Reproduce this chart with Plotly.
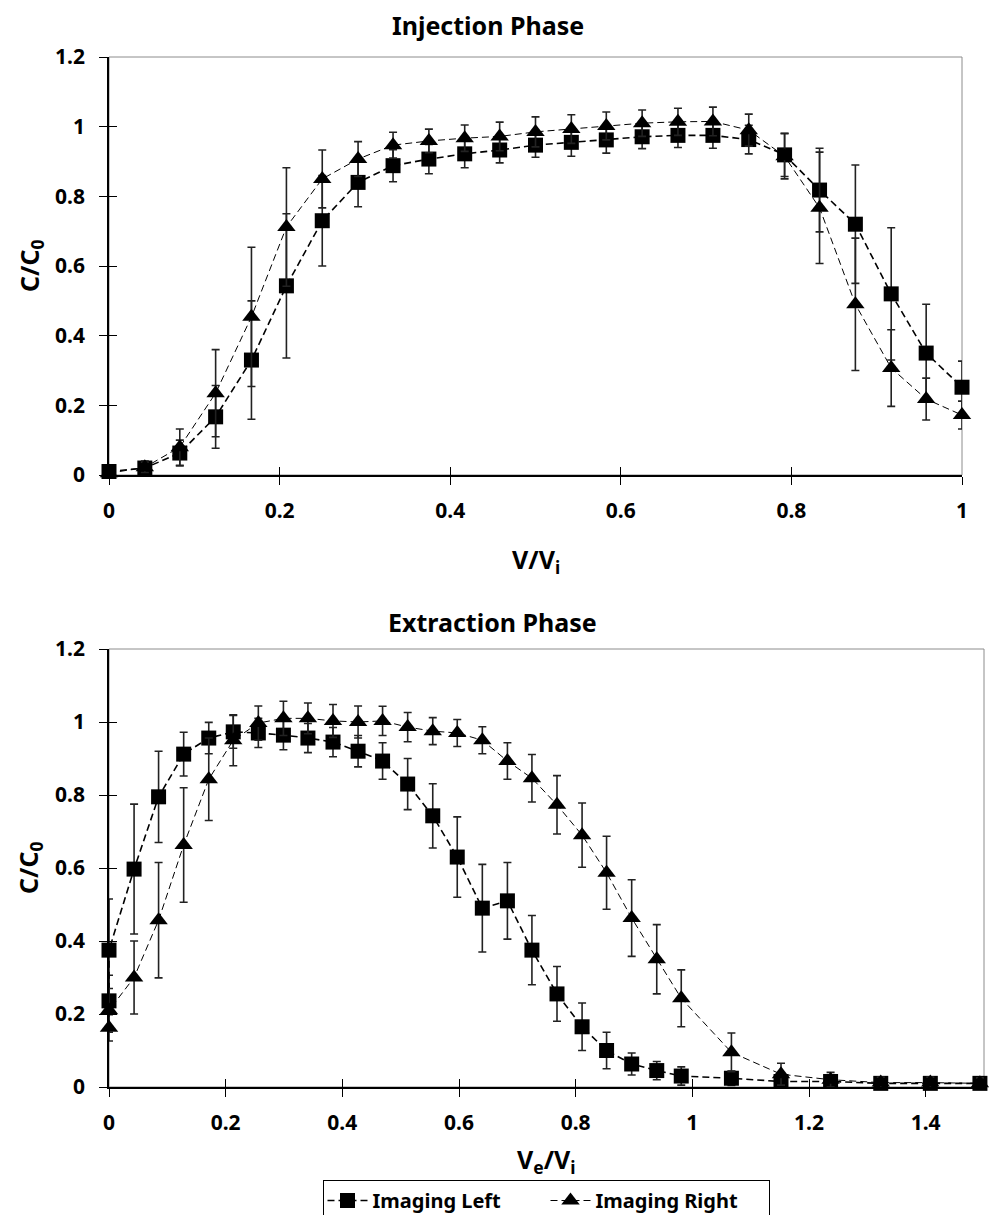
import plotly.graph_objects as go

# ---------------- Injection phase ----------------
inj_x = [0, 0.042, 0.083, 0.125, 0.167, 0.208, 0.25, 0.292, 0.333, 0.375, 0.417, 0.458, 0.5,
         0.542, 0.583, 0.625, 0.667, 0.708, 0.75, 0.792, 0.833, 0.875, 0.917, 0.958, 1.0]
inj_left = [0.01, 0.02, 0.063, 0.167, 0.33, 0.543, 0.73, 0.84, 0.888, 0.907, 0.922, 0.933, 0.947,
            0.955, 0.962, 0.971, 0.975, 0.975, 0.963, 0.919, 0.818, 0.72, 0.52, 0.35, 0.252]
inj_left_err = [0.008, 0.02, 0.037, 0.09, 0.17, 0.207, 0.13, 0.07, 0.046, 0.042, 0.04, 0.037, 0.035,
                0.04, 0.038, 0.034, 0.035, 0.037, 0.041, 0.062, 0.12, 0.17, 0.19, 0.14, 0.075]
inj_right = [0.005, 0.022, 0.08, 0.235, 0.454, 0.712, 0.85, 0.907, 0.947, 0.959, 0.967, 0.972, 0.985,
             0.993, 1.002, 1.01, 1.014, 1.015, 0.99, 0.915, 0.767, 0.49, 0.307, 0.218, 0.172]
inj_right_err = [0.005, 0.015, 0.052, 0.125, 0.2, 0.17, 0.083, 0.05, 0.037, 0.034, 0.038, 0.041, 0.043,
                 0.041, 0.04, 0.038, 0.039, 0.041, 0.046, 0.065, 0.16, 0.19, 0.11, 0.06, 0.04]

# ---------------- Extraction phase ----------------
ext_x = [0, 0, 0.043, 0.085, 0.128, 0.171, 0.213, 0.256, 0.299, 0.341, 0.384, 0.427, 0.469, 0.512,
         0.555, 0.597, 0.640, 0.683, 0.725, 0.768, 0.811, 0.853, 0.896, 0.939, 0.981, 1.067, 1.152,
         1.237, 1.323, 1.408, 1.493]
ext_left = [0.236, 0.375, 0.597, 0.795, 0.912, 0.956, 0.973, 0.97, 0.964, 0.956, 0.945, 0.92, 0.893,
            0.83, 0.743, 0.63, 0.49, 0.51, 0.375, 0.255, 0.165, 0.1, 0.063, 0.045, 0.03, 0.024,
            0.015, 0.015, 0.01, 0.01, 0.01]
ext_left_err = [0.07, 0.14, 0.178, 0.125, 0.06, 0.043, 0.045, 0.04, 0.04, 0.04, 0.04, 0.043, 0.05,
                0.07, 0.088, 0.11, 0.12, 0.105, 0.095, 0.075, 0.065, 0.05, 0.03, 0.025, 0.025, 0.02,
                0.015, 0.015, 0.012, 0.012, 0.012]
ext_right = [0.162, 0.21, 0.30, 0.457, 0.663, 0.843, 0.95, 0.997, 1.01, 1.01, 1.003, 1.0, 1.003,
             0.986, 0.975, 0.97, 0.95, 0.893, 0.846, 0.773, 0.69, 0.587, 0.463, 0.35, 0.243, 0.095,
             0.035, 0.02, 0.012, 0.012, 0.01]
ext_right_err = [0.036, 0.06, 0.1, 0.158, 0.157, 0.113, 0.07, 0.047, 0.047, 0.042, 0.045, 0.044, 0.04,
                 0.04, 0.037, 0.037, 0.037, 0.05, 0.065, 0.08, 0.088, 0.1, 0.105, 0.095, 0.078, 0.053,
                 0.03, 0.02, 0.015, 0.015, 0.015]

W, H = 991, 1215
FONT = "Noto Sans"
BLACK = "#000000"
ERR = "#222222"

# plot areas in pixels (left, right, top, bottom)
TOP_BOX = (109, 962, 57, 475)
BOT_BOX = (109, 984, 649, 1087)


def xdom(box):
    return [box[0] / W, box[1] / W]


def ydom(box):
    return [1 - box[3] / H, 1 - box[2] / H]


fig = go.Figure()


def add_series(x, y, err, xa, ya, name, symbol, lw, dash, show):
    fig.add_trace(go.Scatter(
        x=x, y=y, xaxis=xa, yaxis=ya, name=name, mode="lines+markers",
        line=dict(color=BLACK, width=lw, dash=dash),
        marker=dict(symbol=symbol, size=15 if symbol == "square" else 16, color=BLACK,
                    line=dict(width=0)),
        error_y=dict(type="data", array=err, visible=True, color=ERR, thickness=1.6, width=4),
        cliponaxis=False, showlegend=show, legendgroup=name,
    ))


add_series(inj_x, inj_left, inj_left_err, "x", "y", "Imaging Left", "square", 1.6, "7px,4px", True)
add_series(inj_x, inj_right, inj_right_err, "x", "y", "Imaging Right", "triangle-up", 1.0, "7px,4px", True)
add_series(ext_x, ext_left, ext_left_err, "x2", "y2", "Imaging Left", "square", 1.6, "7px,4px", False)
add_series(ext_x, ext_right, ext_right_err, "x2", "y2", "Imaging Right", "triangle-up", 1.0, "7px,4px", False)

# empty traces so the overlay axes (inner half of the crossing ticks) are drawn
for xa, ya in (("x3", "y3"), ("x4", "y4")):
    fig.add_trace(go.Scatter(x=[None], y=[None], xaxis=xa, yaxis=ya, showlegend=False,
                             hoverinfo="skip", mode="markers"))

tick_font = dict(family=FONT, size=21, color=BLACK, weight="bold")

main_x = dict(showgrid=False, zeroline=False, showline=True, linecolor=BLACK, linewidth=1.5,
              ticks="outside", ticklen=8, tickwidth=1, tickcolor=BLACK, tickfont=tick_font,
              ticklabelstandoff=8, dtick=0.2, tick0=0)
main_y = dict(showgrid=False, zeroline=False, showline=True, linecolor=BLACK, linewidth=1.5,
              ticks="outside", ticklen=8, tickwidth=1, tickcolor=BLACK, tickfont=tick_font,
              ticklabelstandoff=10, dtick=0.2, tick0=0, range=[0, 1.2])
inner = dict(showgrid=False, zeroline=False, showline=False, ticks="inside", ticklen=8,
             tickwidth=1, tickcolor=BLACK, showticklabels=False, dtick=0.2, tick0=0)

fig.update_layout(
    width=W, height=H, margin=dict(l=0, r=0, t=0, b=0, autoexpand=False),
    paper_bgcolor="white", plot_bgcolor="white",
    font=dict(family=FONT, color=BLACK),
    xaxis=dict(main_x, domain=xdom(TOP_BOX), range=[0, 1], anchor="y",
               tickvals=[0, 0.2, 0.4, 0.6, 0.8, 1], ticktext=["0", "0.2", "0.4", "0.6", "0.8", "1"]),
    yaxis=dict(main_y, domain=ydom(TOP_BOX), anchor="x",
               tickvals=[0, 0.2, 0.4, 0.6, 0.8, 1, 1.2],
               ticktext=["0", "0.2", "0.4", "0.6", "0.8", "1", "1.2"]),
    xaxis2=dict(main_x, domain=xdom(BOT_BOX), range=[0, 1.5], anchor="y2",
                tickvals=[0, 0.2, 0.4, 0.6, 0.8, 1, 1.2, 1.4],
                ticktext=["0", "0.2", "0.4", "0.6", "0.8", "1", "1.2", "1.4"]),
    yaxis2=dict(main_y, domain=ydom(BOT_BOX), anchor="x2",
                tickvals=[0, 0.2, 0.4, 0.6, 0.8, 1, 1.2],
                ticktext=["0", "0.2", "0.4", "0.6", "0.8", "1", "1.2"]),
    xaxis3=dict(inner, overlaying="x", anchor="y3", range=[0, 1], domain=xdom(TOP_BOX)),
    yaxis3=dict(inner, overlaying="y", anchor="x3", range=[0, 1.2], domain=ydom(TOP_BOX)),
    xaxis4=dict(inner, overlaying="x2", anchor="y4", range=[0, 1.5], domain=xdom(BOT_BOX)),
    yaxis4=dict(inner, overlaying="y2", anchor="x4", range=[0, 1.2], domain=ydom(BOT_BOX)),
    legend=dict(orientation="h", x=546 / W, xanchor="center", y=1 - 1180 / H, yanchor="top",
                bordercolor=BLACK, borderwidth=1, bgcolor="white",
                font=dict(family=FONT, size=20, color=BLACK, weight="bold"),
                entrywidth=168, entrywidthmode="pixels",
                itemwidth=40, tracegroupgap=0),
)

# grey frame on the top and right of each plot area
for xr, yr in (("x domain", "y domain"), ("x2 domain", "y2 domain")):
    fig.add_shape(type="rect", xref=xr, yref=yr, x0=0, x1=1, y0=0, y1=1,
                  line=dict(color="#8c8c8c", width=1), layer="below")

title_font = dict(family=FONT, size=25, color=BLACK, weight="bold")
axis_font = dict(family=FONT, size=25, color=BLACK, weight="bold")

annotations = [
    dict(text="Injection Phase", x=488 / W, y=1 - 25 / H, font=title_font),
    dict(text="Extraction Phase", x=492 / W, y=1 - 622 / H, font=title_font),
    dict(text="V/V<sub>i</sub>", x=536 / W, y=1 - 560 / H, font=axis_font),
    dict(text="V<sub>e</sub>/V<sub>i</sub>", x=546 / W, y=1 - 1160 / H, font=axis_font),
    dict(text="C/C<sub>0</sub>", x=30 / W, y=1 - 266 / H, font=axis_font, textangle=-90),
    dict(text="C/C<sub>0</sub>", x=30 / W, y=1 - 868 / H, font=axis_font, textangle=-90),
]
for a in annotations:
    fig.add_annotation(xref="paper", yref="paper", showarrow=False,
                       xanchor="center", yanchor="middle", **a)

fig.write_html("out.html")
